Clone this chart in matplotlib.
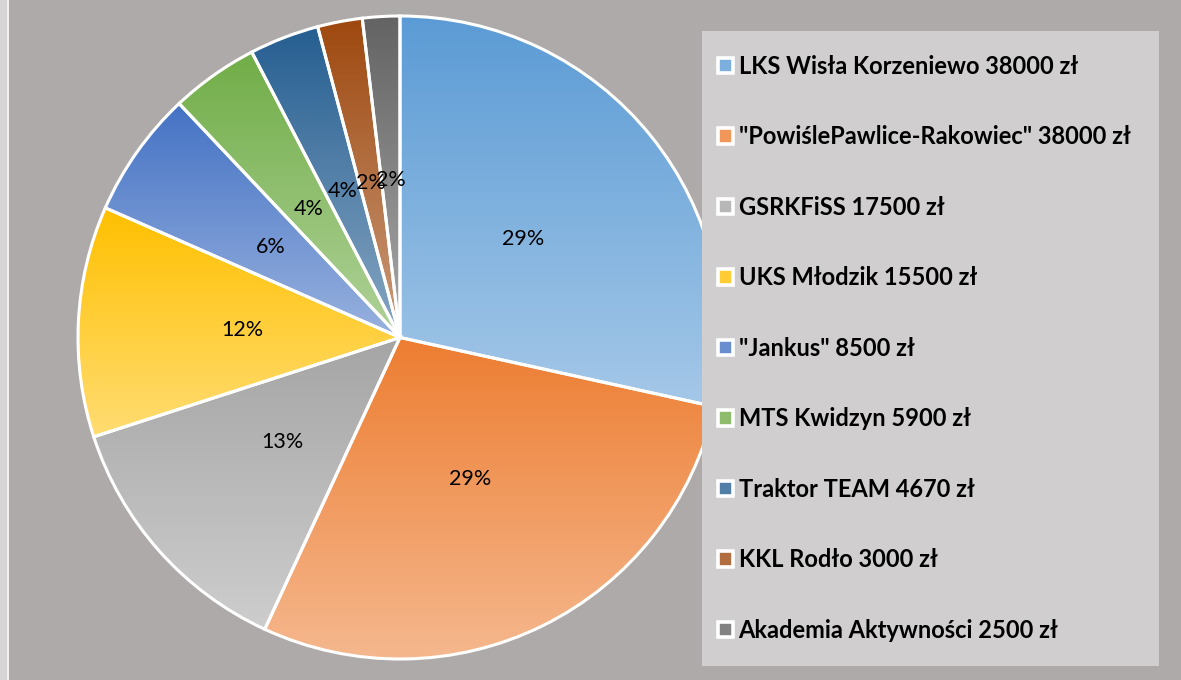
import numpy as np
import matplotlib
matplotlib.use('Agg')
import matplotlib.pyplot as plt
import matplotlib.colors as mcolors
from matplotlib.patches import Rectangle

teams = ['LKS Wisła Korzeniewo', '"PowiślePawlice-Rakowiec"', 'GSRKFiSS', 'UKS Młodzik',
         '"Jankus"', 'MTS Kwidzyn', 'Traktor TEAM', 'KKL Rodło', 'Akademia Aktywności']
amounts = [38000, 38000, 17500, 15500, 8500, 5900, 4670, 3000, 2500]
pct_labels = ['29%', '29%', '13%', '12%', '6%', '4%', '4%', '2%', '2%']
colors = ['#5B9BD5', '#ED7D31', '#A5A5A5', '#FFC000', '#4472C4', '#70AD47',
          '#255E91', '#9E480E', '#636363']

W, H = 1181, 680
fig = plt.figure(figsize=(W / 100, H / 100), dpi=100)
fig.patch.set_facecolor('#AEAAA9')
fig.patches.append(Rectangle((0, 0), 7 / W, 1, transform=fig.transFigure,
                             facecolor='#D6D4D4', edgecolor='none', zorder=0))
fig.patches.append(Rectangle((7 / W, 0), 1.5 / W, 1, transform=fig.transFigure,
                             facecolor='#F0F0F0', edgecolor='none', zorder=0))


def lighten(c, f):
    rgb = np.array(mcolors.to_rgb(c))
    return rgb + (1 - rgb) * f


ax = fig.add_axes([78 / W, 21 / H, 644 / W, 643 / H])
wedges, _ = ax.pie(amounts, startangle=90, counterclock=False, radius=1,
                   wedgeprops=dict(linewidth=0))

t = np.linspace(0, 1, 256)[:, None, None]
for w, c in zip(wedges, colors):
    bb = w.get_path().get_extents()
    top = np.array(mcolors.to_rgb(c))[None, None, :]
    bot = lighten(c, 0.45)[None, None, :]
    img = top * (1 - t) + bot * t
    im = ax.imshow(img, extent=(bb.x0, bb.x1, bb.y0, bb.y1), origin='upper',
                   aspect='auto', interpolation='bilinear', zorder=1)
    im.set_clip_path(w)
    w.set_facecolor('none')
    w.set_edgecolor('white')
    w.set_linewidth(2.2)
    w.set_zorder(2)

for w, lab in zip(wedges, pct_labels):
    mid = np.deg2rad((w.theta1 + w.theta2) / 2)
    ax.text(0.49 * np.cos(mid), 0.49 * np.sin(mid), lab, ha='center', va='center',
            fontsize=15.5, family='Lato', color='#000000', zorder=3)

ax.set_xlim(-1, 1)
ax.set_ylim(-1, 1)
ax.set_aspect('auto')
ax.axis('off')

# legend background
fig.patches.append(Rectangle((702 / W, 1 - 666 / H), 457 / W, 635 / H, transform=fig.transFigure,
                             facecolor='#D0CECF', edgecolor='none', zorder=5))

handles = [Rectangle((0, 0), 1, 1, facecolor=lighten(c, 0.2), edgecolor='white', linewidth=2.6)
           for c in colors]
labels = [f'{n} {v} zł' for n, v in zip(teams, amounts)]
leg = fig.legend(handles, labels, loc='upper left', bbox_to_anchor=(718 / W, 1 - 55 / H),
                 frameon=False, borderpad=0, borderaxespad=0,
                 prop=dict(family='Lato', weight='bold', size=17),
                 handlelength=0.62, handleheight=0.62, handletextpad=0.25,
                 labelspacing=2.01)
leg.set_zorder(6)

fig.savefig('out.png', dpi=100, facecolor=fig.get_facecolor())
